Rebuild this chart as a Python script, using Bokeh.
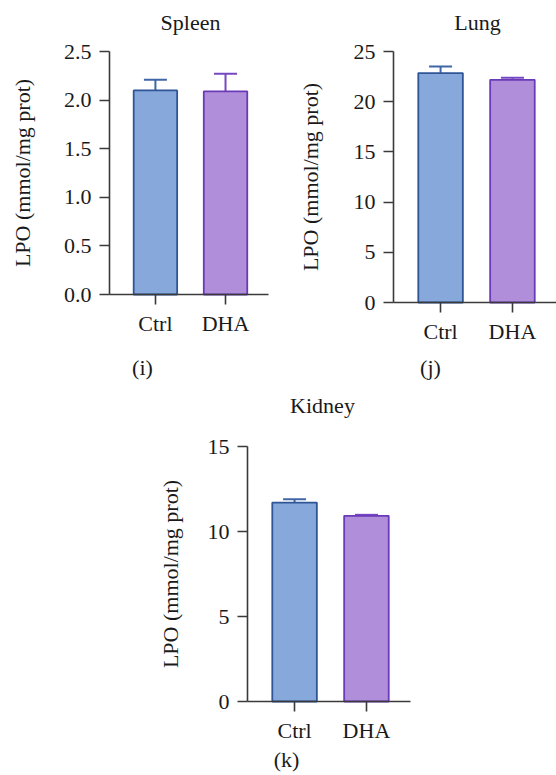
from bokeh.plotting import figure
from bokeh.layouts import column, row
from bokeh.models import (ColumnDataSource, Range1d, FixedTicker, NumeralTickFormatter,
                          Whisker, TeeHead, Label, LinearAxis, Spacer)
from bokeh.embed import file_html
from bokeh.resources import INLINE

# ---- data ----
groups = ["Ctrl", "DHA"]

spleen_mean = [2.10, 2.09]
spleen_err = [0.11, 0.18]
spleen_ticks = [0.0, 0.5, 1.0, 1.5, 2.0, 2.5]

lung_mean = [22.85, 22.18]
lung_err = [0.66, 0.20]
lung_ticks = [0, 5, 10, 15, 20, 25]

kidney_mean = [11.70, 10.92]
kidney_err = [0.20, 0.06]
kidney_ticks = [0, 5, 10, 15]

y_label = "LPO (mmol/mg prot)"

# ---- styling ----
FONT = "Liberation Serif"
FS = "22px"
TEXT = "#1a1a1a"
AXIS = "#3a3a3a"
FILLS = ["#86A8DA", "#B08EDA"]
EDGES = ["#2F5597", "#6A3AB8"]
WHISK = ["#3F66A6", "#7547C2"]
BAR_W = 0.62
X_START, X_END = -0.655, 1.613   # extent of the category axis line

TOP_H = 385
PAGE_H = 775


def panel(title, caption, means, errs, ticks, fmt, canvas, frame,
          title_at, caption_at, label_standoff):
    """canvas = (x0, y0, w, h) on the page; frame = (left, right, top, bottom)
    is where the axis lines sit on the page."""
    cx0, cy0, cw, ch = canvas
    fl, fr, ft, fb = frame
    y0, y1 = ticks[0], ticks[-1]
    kx = (fr - fl) / (X_END - X_START)
    ky = (fb - ft) / (y1 - y0)
    xs0 = X_START - (fl - cx0) / kx
    xs1 = X_END + (cx0 + cw - fr) / kx
    ys0 = y0 - (cy0 + ch - fb) / ky
    ys1 = y1 + (ft - cy0) / ky

    def to_data(px, py):
        return xs0 + (px - cx0) / kx, ys1 - (py - cy0) / ky

    xs = list(range(len(groups)))
    src = ColumnDataSource(dict(
        x=xs, top=means,
        upper=[m + e for m, e in zip(means, errs)],
        fill=FILLS, edge=EDGES, whisk=WHISK,
    ))
    p = figure(width=cw, height=ch, output_backend="svg", toolbar_location=None,
               x_range=Range1d(xs0, xs1), y_range=Range1d(ys0, ys1),
               x_axis_location=None, y_axis_location=None,
               min_border=0, frame_align=False)
    p.outline_line_color = None
    p.grid.visible = False
    p.background_fill_color = "white"
    p.border_fill_color = "white"

    p.vbar(x="x", top="top", width=BAR_W, bottom=0, source=src,
           fill_color="fill", line_color="edge", line_width=1.8)

    p.add_layout(Whisker(source=src, base="x", lower="top", upper="upper",
                         dimension="height", line_color="whisk", line_width=2,
                         upper_head=TeeHead(size=23, line_color="whisk", line_width=2),
                         lower_head=None))

    xaxis = LinearAxis(fixed_location=y0, bounds=(X_START, X_END),
                       ticker=FixedTicker(ticks=xs))
    overrides = {}
    for i, g in enumerate(groups):
        overrides[i] = g
        overrides[str(i)] = g
    xaxis.major_label_overrides = overrides
    xaxis.major_label_standoff = 6

    yaxis = LinearAxis(fixed_location=X_START, bounds=(y0, y1),
                       ticker=FixedTicker(ticks=ticks),
                       formatter=NumeralTickFormatter(format=fmt))
    yaxis.major_label_standoff = 8
    yaxis.axis_label = y_label
    yaxis.axis_label_text_font = FONT
    yaxis.axis_label_text_font_size = FS
    yaxis.axis_label_text_font_style = "normal"
    yaxis.axis_label_text_color = TEXT
    yaxis.axis_label_standoff = label_standoff

    for ax in (xaxis, yaxis):
        ax.axis_line_color = AXIS
        ax.axis_line_width = 1.6
        ax.major_tick_line_color = AXIS
        ax.major_tick_line_width = 1.6
        ax.major_tick_in = 0
        ax.major_tick_out = 10
        ax.minor_tick_line_color = None
        ax.major_label_text_font = FONT
        ax.major_label_text_font_size = FS
        ax.major_label_text_color = TEXT
    p.add_layout(xaxis, "below")
    p.add_layout(yaxis, "left")

    for txt, (px, py) in ((title, title_at), (caption, caption_at)):
        lx, ly = to_data(px, py)
        p.add_layout(Label(x=lx, y=ly, text=txt, text_font=FONT,
                           text_font_size=FS, text_color=TEXT,
                           text_align="center", text_baseline="middle"))
    return p


spleen = panel("Spleen", "(i)", spleen_mean, spleen_err, spleen_ticks, "0.0",
               (0, 0, 280, TOP_H), (109, 268, 51, 294),
               (190, 22), (142, 367), 26)
lung = panel("Lung", "(j)", lung_mean, lung_err, lung_ticks, "0",
             (280, 0, 276, TOP_H), (393, 556, 51, 302),
             (477, 22), (430, 367), 28)
kidney = panel("Kidney", "(k)", kidney_mean, kidney_err, kidney_ticks, "0",
               (140, TOP_H, 280, PAGE_H - TOP_H), (247, 410, 446, 701),
               (322, 405), (286, 759), 22)

layout = column(row(spleen, lung),
                row(Spacer(width=140, height=PAGE_H - TOP_H), kidney,
                    Spacer(width=136, height=PAGE_H - TOP_H)))

open("out.html", "w").write(file_html(layout, INLINE))
